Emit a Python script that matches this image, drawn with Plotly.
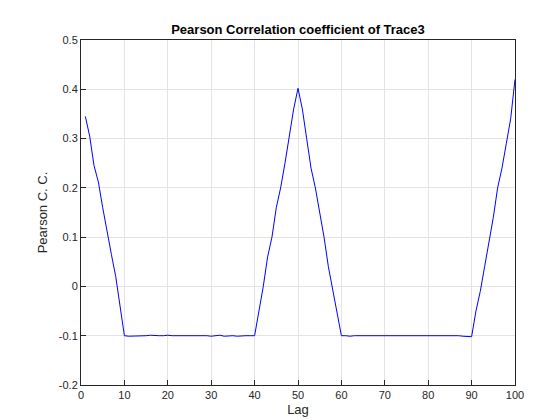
import plotly.graph_objects as go

lags = list(range(1, 101))
seg1 = [0.345, 0.305, 0.245, 0.212, 0.16, 0.11, 0.065, 0.02, -0.04, -0.1]
flat1 = [-0.101, -0.101, -0.1, -0.1, -0.1, -0.099, -0.1, -0.1, -0.1, -0.099,
         -0.1, -0.1, -0.099, -0.1, -0.1, -0.1, -0.099, -0.1, -0.1, -0.101,
         -0.1, -0.099, -0.101, -0.1, -0.1, -0.101, -0.1, -0.1, -0.1]
rise1 = [-0.1, -0.05, 0.0, 0.06, 0.1, 0.16, 0.2, 0.25, 0.31, 0.36, 0.402]
fall1 = [0.36, 0.3, 0.24, 0.2, 0.15, 0.1, 0.04, -0.005, -0.05, -0.1]
flat2 = [-0.1, -0.101, -0.1, -0.1, -0.099, -0.1, -0.1, -0.1, -0.099, -0.1,
         -0.1, -0.1, -0.099, -0.1, -0.1, -0.099, -0.1, -0.1, -0.099, -0.1,
         -0.1, -0.099, -0.1, -0.1, -0.1, -0.1, -0.1, -0.101, -0.101, -0.102]
rise2 = [-0.05, -0.01, 0.04, 0.09, 0.14, 0.2, 0.24, 0.29, 0.34, 0.42]
values = seg1 + flat1 + rise1 + fall1 + flat2 + rise2

y_ticks = [-0.2, -0.1, 0, 0.1, 0.2, 0.3, 0.4, 0.5]
y_labels = ["-0.2", "-0.1", "0", "0.1", "0.2", "0.3", "0.4", "0.5"]
x_ticks = list(range(0, 101, 10))

fig = go.Figure(go.Scatter(x=lags, y=values, mode="lines",
                           line=dict(color="#0000ff", width=1)))
ax = dict(showline=True, linecolor="#262626", linewidth=1, mirror=True,
          ticks="inside", ticklen=5, tickcolor="#262626",
          showgrid=True, gridcolor="#e3e3e3", zeroline=False,
          tickfont=dict(size=11, color="#262626"), automargin=False)
fig.update_xaxes(range=[0, 100], tickvals=x_ticks, ticktext=[str(v) for v in x_ticks],
                 title=dict(text="Lag", font=dict(size=13, color="#262626"), standoff=4), **ax)
fig.update_yaxes(range=[-0.2, 0.5], tickvals=y_ticks, ticktext=y_labels,
                 title=dict(text="Pearson C. C.", font=dict(size=13, color="#262626"), standoff=8), **ax)
fig.update_layout(
    width=560, height=420, margin=dict(l=73, r=53, t=32, b=43),
    paper_bgcolor="white", plot_bgcolor="white",
    font=dict(family="Liberation Sans, Arial", color="#262626"),
    title=dict(text="<b>Pearson Correlation coefficient of Trace3</b>", x=0.5, xanchor="center",
               xref="paper", y=1, yref="paper", yanchor="bottom", pad=dict(b=6),
               font=dict(size=13, color="black")),
    showlegend=False,
)
fig.write_html("out.html")
